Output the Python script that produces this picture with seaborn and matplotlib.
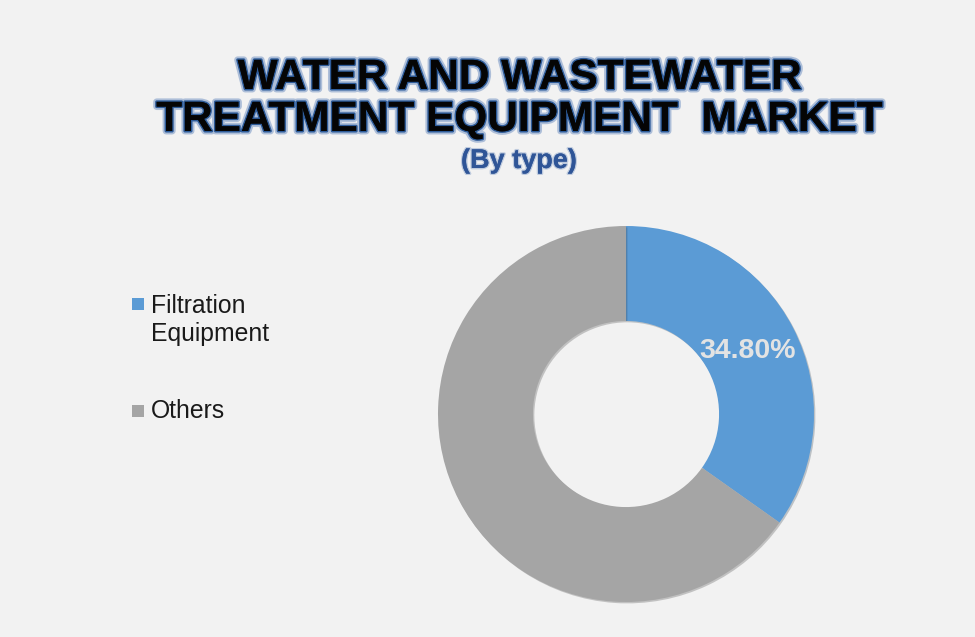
import matplotlib
matplotlib.use("Agg")
import matplotlib.pyplot as plt
import matplotlib.patheffects as pe
from matplotlib.patches import Rectangle
import seaborn as sns

categories = ["Filtration\nEquipment", "Others"]
shares = [34.8, 65.2]
colors = ["#5B9BD5", "#A5A5A5"]
title_lines = ["WATER AND WASTEWATER", "TREATMENT EQUIPMENT  MARKET"]
subtitle = "(By type)"

sns.set_theme(style="white")
plt.rcParams["font.family"] = ["Liberation Sans", "DejaVu Sans"]

W, H = 975, 637
bg = "#F2F2F2"
fig = plt.figure(figsize=(W / 100, H / 100), dpi=100, facecolor=bg)

ax = fig.add_axes([438 / W, 35 / H, 376 / W, 376 / H])
ax.set_facecolor(bg)
wedges, texts, autotexts = ax.pie(
    shares, colors=colors, startangle=90, counterclock=False,
    autopct="%.2f%%", pctdistance=0.73, radius=1.0,
    wedgeprops=dict(width=0.505, edgecolor="none"),
    textprops=dict(color="#E3E3E3", fontsize=20.5, fontweight="bold"),
)
for w in wedges:
    w.set_path_effects([pe.SimplePatchShadow(offset=(1, -1), alpha=0.25), pe.Normal()])
autotexts[1].set_visible(False)
ax.set_xlim(-1, 1)
ax.set_ylim(-1, 1)
ax.set_aspect("equal")
ax.axis("off")

glow = [pe.withStroke(linewidth=5, foreground="#7F9CC8", alpha=0.6),
        pe.withStroke(linewidth=2.2, foreground="#2E5C9A"), pe.Normal()]
fig.text(520 / W, 1 - 78 / H, title_lines[0], ha="center", va="center",
         fontsize=30.5, fontweight="bold", color="#050505", path_effects=glow)
fig.text(520 / W, 1 - 120 / H, title_lines[1], ha="center", va="center",
         fontsize=30.5, fontweight="bold", color="#050505", path_effects=glow)
fig.text(519 / W, 1 - 161 / H, subtitle, ha="center", va="center",
         fontsize=19.5, fontweight="bold", color="#2F5597",
         path_effects=[pe.withStroke(linewidth=2, foreground="#9AAFCF", alpha=0.6), pe.Normal()])

# legend drawn manually: square marker + label per category
marker_tops = [298, 405]
last_baselines = [341, 418]
for cat, col, mt, bl in zip(categories, colors, marker_tops, last_baselines):
    fig.patches.append(Rectangle((132 / W, 1 - (mt + 12) / H), 12 / W, 12 / H,
                                 transform=fig.transFigure, facecolor=col,
                                 edgecolor="none", figure=fig))
    fig.text(151 / W, 1 - bl / H, cat, ha="left", va="baseline",
             fontsize=17.8, color="#1A1A1A", linespacing=1.2)

fig.savefig("out.png", dpi=100, facecolor=bg)
